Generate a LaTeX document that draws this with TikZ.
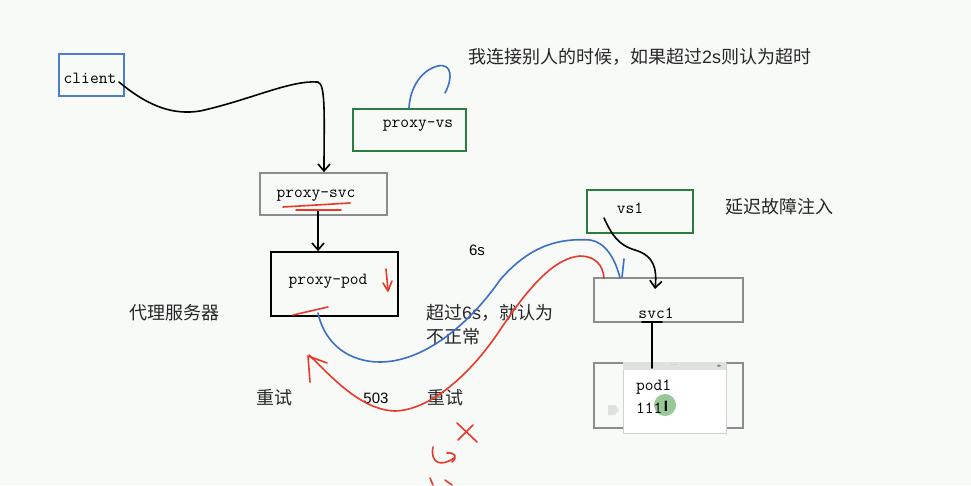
\documentclass[tikz,border=0pt]{standalone}
\usepackage{fontspec}
\setsansfont{Liberation Sans}
\newfontfamily\cjk{Noto Sans CJK SC}
\newfontfamily\symfont{DejaVu Sans}
\usetikzlibrary{arrows.meta}
\definecolor{bg}{HTML}{F8FAF8}
\definecolor{boxblue}{HTML}{4A7EC8}
\definecolor{boxgreen}{HTML}{2E7D40}
\definecolor{boxgray}{HTML}{8C8C8C}
\definecolor{penblue}{HTML}{3A6FC4}
\definecolor{penred}{HTML}{E8392A}
\tikzset{
  box/.style={draw, line width=1.6pt, minimum width=#1, inner sep=0pt},
  mono/.style={font=\ttfamily\fontsize{17}{19}\selectfont, inner sep=0pt},
  cn/.style={font=\cjk\fontsize{18}{21}\selectfont, inner sep=0pt, text=black!85},
  num/.style={font=\sffamily\fontsize{15}{17}\selectfont, inner sep=0pt},
  pen/.style={line width=1.6pt, line cap=round, line join=round},
  openarrow/.style={-{Straight Barb[length=7pt,width=12pt]}}
}
\begin{document}
\begin{tikzpicture}[x=1pt,y=-1pt]
\fill[bg] (0,0) rectangle (971,485);
\useasboundingbox (0,0) rectangle (971,485);

% boxes
\node[box=65pt, minimum height=42pt, draw=boxblue] (client) at (91.5,75) {};
\node[box=113pt, minimum height=42pt, draw=boxgreen] (pvs) at (409.5,130) {};
\node[box=127pt, minimum height=42pt, draw=boxgray] (psvc) at (323.5,194) {};
\node[box=127pt, minimum height=64pt, draw=black] (ppod) at (334.5,284) {};
\node[box=106pt, minimum height=43pt, draw=boxgreen] (vs1) at (640,211.5) {};
\node[box=149pt, minimum height=44pt, draw=boxgray] (svc1) at (668.5,300) {};
\node[box=149pt, minimum height=65pt, draw=boxgray] (pod1) at (668.5,395.5) {};

% pod1 editor panel
\fill[white, draw=black!18, line width=0.6pt] (623,363) rectangle (726,433);
\fill[black!12] (623,362) rectangle (726,370);
\node[font=\sffamily\fontsize{5}{5}\selectfont, text=black!50, inner sep=0pt] (dots) at (674,366) {····};
\node[font=\symfont\fontsize{5}{5}\selectfont, text=black!50, inner sep=0pt] (lr) at (719,366) {◂▸};
\fill[black!12] (608,405) -- (615,405) -- (619,410) -- (615,415) -- (608,415) -- cycle;
\fill[green!45!black!40!white] (665,405) circle (11);

% box texts
\node[mono] (tclient) at (90,78) {client};
\node[mono] (tpvs) at (418,126) {proxy-vs};
\node[mono] (tpsvc) at (316,196) {proxy-svc};
\node[mono] (tppod) at (328,281) {proxy-pod};
\node[mono] (tvs1) at (630,208) {vs1};
\node[mono] (tsvc1) at (656,313) {svc1};
\node[mono, anchor=west] (tpod1) at (636,387) {pod1};
\node[mono, anchor=west] (t111) at (636,408) {111};
\node[font=\sffamily\bfseries\fontsize{15}{15}\selectfont, inner sep=0pt] (cursor) at (666,406) {I};

% labels
\node[cn, anchor=west] (note1) at (468,57) {我连接别人的时候，如果超过\textsf{2s}则认为超时};
\node[cn, anchor=west] (note2) at (725,207) {延迟故障注入};
\node[num] (six) at (477,250) {6s};
\node[cn] (proxyserver) at (174,313) {代理服务器};
\node[cn, anchor=west] (over1) at (426,313) {超过\textsf{6s}，就认为};
\node[cn, anchor=west] (over2) at (426,337) {不正常};
\node[cn] (retry1) at (274,398) {重试};
\node[num] (n503) at (376,398) {503};
\node[cn] (retry2) at (445,398) {重试};

% named points
\coordinate (cstart) at (119,82);
\coordinate (pvstop) at (409,108);
\coordinate (psvcbot) at (318,211);
\coordinate (vs1in) at (604,218);
\coordinate (svc1bot) at (652,322);
\coordinate (pod1top) at (652,368);
\coordinate (ppodbot) at (318,313);
\coordinate (redtip) at (309,355);

% client -> proxy-svc
\draw[pen, openarrow] (cstart) .. controls (150,108) and (175,115) .. (200,111)
  .. controls (250,100) and (290,80) .. (318,82)
  .. controls (326,84) and (324,120) .. (psvc.north -| 324,0);
% proxy-svc -> proxy-pod
\draw[pen, openarrow] (psvcbot) -- (ppod.north -| psvcbot);
% vs1 -> svc1
\draw[pen, openarrow] (vs1in) .. controls (612,235) and (618,245) .. (635,250)
  .. controls (655,256) and (657,270) .. (655,289);
% svc1 -- pod1
\draw[pen] (642,322) -- (662,322);
\draw[pen] (svc1bot) -- (pod1top);

% blue hook from proxy-vs
\draw[pen, penblue] (pvstop) .. controls (410,88) and (421,70) .. (438,66)
  .. controls (452,63) and (453,78) .. (445,93);

% blue curve
\draw[pen, penblue] (ppodbot) .. controls (325,345) and (350,362) .. (380,362)
  .. controls (420,362) and (465,330) .. (500,280)
  .. controls (530,245) and (560,238) .. (590,240)
  .. controls (605,242) and (615,258) .. (620,278);
\draw[pen, penblue] (624,259) -- (622,277);

% red curve
\draw[pen, penred] (redtip) .. controls (330,375) and (360,410) .. (395,411)
  .. controls (430,410) and (470,375) .. (500,330)
  .. controls (530,285) and (555,258) .. (580,256)
  .. controls (595,256) and (603,265) .. (604,278);
\draw[pen, penred] (310,382) -- (308,356) -- (327,363);

% red marks
\draw[pen, penred] (283,207) -- (350,203);
\draw[pen, penred] (296,210) -- (341,210);
\draw[pen, penred] (293,315) -- (328,307);
\draw[pen, penred] (386,269) -- (388,290);
\draw[pen, penred] (383,283) -- (388,291) -- (392,281);
\draw[pen, penred] (457,423) -- (477,442);
\draw[pen, penred] (473,425) -- (458,440);
\draw[pen, penred] (433,447) .. controls (430,462) and (440,468) .. (454,458);
\draw[pen, penred] (447,453) .. controls (455,452) and (458,457) .. (452,462);
\draw[pen, penred] (430,478) -- (433,485);
\draw[pen, penred] (445,480) -- (452,485);
\end{tikzpicture}
\end{document}
